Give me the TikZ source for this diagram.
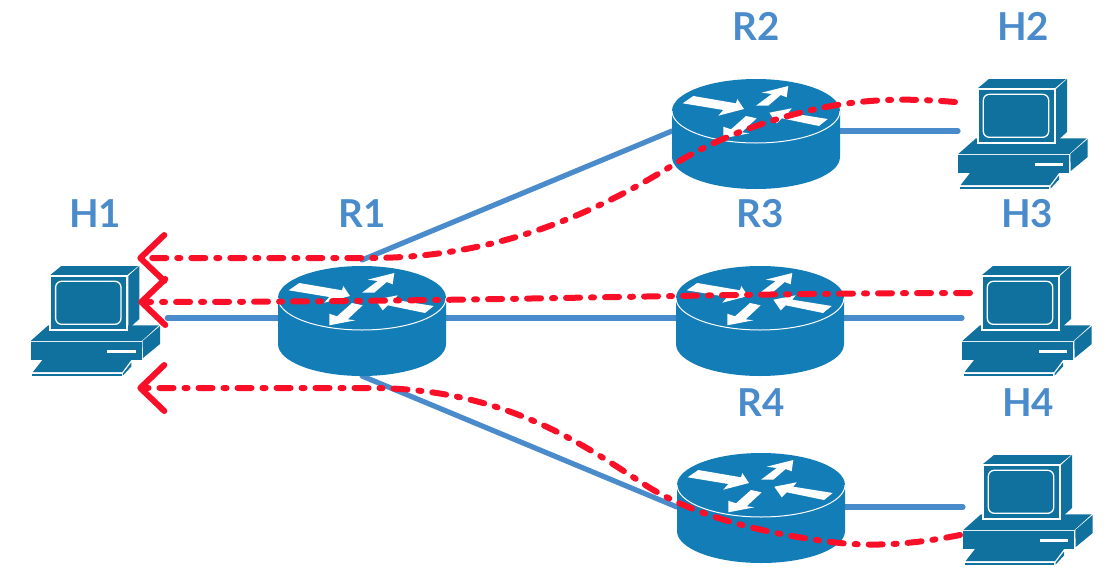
\documentclass[tikz,border=0pt]{standalone}
\usepackage{fontspec}
\setmainfont{Lato}
\definecolor{routerblue}{HTML}{137DB8}
\definecolor{hostblue}{HTML}{10709E}
\definecolor{wireblue}{HTML}{4A8CCB}
\definecolor{flowred}{HTML}{FA0F28}
\usetikzlibrary{calc,positioning,arrows.meta}
\tikzset{
	routerbox/.style={
		rectangle,
		minimum width=168pt,
		minimum height=116pt,
		inner sep=0pt,
		outer sep=0pt},
	hostbox/.style={
		rectangle,
		minimum width=130pt,
		minimum height=116pt,
		inner sep=0pt,
		outer sep=0pt},
	tag/.style={
		text=wireblue,
		font=\fontsize{38.5}{38.5}\selectfont\bfseries,
		inner sep=0pt},
	wire/.style={draw=wireblue, line width=5.2pt, line cap=round},
	flow/.style={
		draw=flowred,
		line width=6pt,
		line cap=round,
		dash pattern=on 14pt off 11pt on 3pt off 11pt,
		-{Straight Barb[length=24pt,width=46pt,round]}},
	router/.pic={
		\fill[routerblue] (-84,-20) -- (-84,26)
			arc[start angle=180,end angle=0,x radius=84,y radius=32] -- (84,-20) -- cycle;
		\fill[routerblue] (0,-20) ellipse[x radius=84,y radius=32];
		\draw[white,line width=1pt] (-84,-20)
			arc[start angle=180,end angle=0,x radius=84,y radius=32];
		\fill[white] (-73.3,-27.7) -- (-62.7,-35) -- (-20,-27.7) -- (-18.7,-32) -- (-12,-22)
			-- (-37.7,-15.3) -- (-32.7,-21) -- cycle;
		\fill[white] (32.3,-45) -- (5.7,-38.3) -- (15.7,-37) -- (0,-25.3) -- (12.3,-25.3)
			-- (24.7,-36) -- (30.7,-33.7) -- cycle;
		\fill[white] (-32.7,7.3) -- (-32.7,-4.3) -- (-25,-1.7) -- (-10,-15) -- (0.7,-12.7)
			-- (-14.3,1.3) -- (-6.7,2.3) -- cycle;
		\fill[white] (13.3,-18.3) -- (35.7,-22.7) -- (32.3,-18.3) -- (71.7,-12) -- (63,-5)
			-- (25.7,-12.7) -- (20.7,-7.7) -- cycle;
	},
	host/.pic={
		% base
		\fill[hostblue] (-64.7,23) -- (-47,7.3) -- (63.7,7.3) -- (46.3,23) -- cycle;
		\fill[hostblue] (-64.7,24.3) rectangle (46.3,41.7);
		\fill[hostblue] (47.3,23) -- (64.7,8) -- (64.7,26) -- (47.7,40) -- cycle;
		\fill[white] (12,32) rectangle (40.3,34.7);
		% monitor
		\fill[hostblue] (-45,-43) -- (-34,-52) -- (43,-52) -- (32,-43) -- cycle;
		\fill[hostblue] (33,-42) -- (44,-52) -- (44,1) -- (33,11) -- cycle;
		\draw[white,line width=1.7pt,fill=hostblue] (-45.3,-41.7) rectangle (32,12.3);
		\draw[white,line width=1.3pt,rounded corners=6pt] (-39.7,-36.7) rectangle (25.7,6.3);
		% keyboard
		\fill[hostblue] (-62.3,54) -- (-53,42) -- (36,42) -- (27,54) -- cycle;
		\fill[hostblue] (-63,55.7) rectangle (26.3,57.7);
		\fill[hostblue] (27.5,55.7) -- (36,44.5) -- (36,48.5) -- (27.5,57.7) -- cycle;
	},
}

\begin{document}
\begin{tikzpicture}[x=1pt,y=-1pt]
\useasboundingbox (0,0) rectangle (1112,576);

\node[routerbox] (r1) at (362,318) {};
\node[routerbox] (r2) at (756,131) {};
\node[routerbox] (r3) at (760,318) {};
\node[routerbox] (r4) at (761,507) {};
\node[hostbox] (h1) at (95.3,318) {};
\node[hostbox] (h2) at (1023,131) {};
\node[hostbox] (h3) at (1027,318) {};
\node[hostbox] (h4) at (1028,507) {};

\node[tag, above=32pt of r1] (r1tag) {R1};
\node[tag, above=32pt of r2] (r2tag) {R2};
\node[tag, above=32pt of r3] (r3tag) {R3};
\node[tag, above=32pt of r4] (r4tag) {R4};
\node[tag, above=32pt of h1] (h1tag) {H1};
\node[tag, above=32pt of h2] (h2tag) {H2};
\node[tag, above=32pt of h3] (h3tag) {H3};
\node[tag, above=32pt of h4] (h4tag) {H4};

\draw[wire, shorten <=7pt] (h1.east) -- (r1.west);
\draw[wire] (r1.north) -- (r2.west);
\draw[wire] (r1.east) -- (r3.west);
\draw[wire] (r1.south) -- (r4.west);
\draw[wire] (r2.east) -- (h2.west);
\draw[wire] (r3.east) -- (h3.west);
\draw[wire] (r4.east) -- (h4.west);

\pic at (r1) {router};
\pic at (r2) {router};
\pic at (r3) {router};
\pic at ([yshift=2pt]r4) {router};
\pic at (h1) {host};
\pic at (h2) {host};
\pic at (h3) {host};
\pic at (h4) {host};

\coordinate (h1up) at ($(h1.east)+(-23,-60)$);
\coordinate (h1mid) at ($(h1.east)+(-22,-16)$);
\coordinate (h1low) at ($(h1.east)+(-23,70)$);
\coordinate (h2out) at ($(h2.west)+(-3,-29)$);
\coordinate (h3out) at ($(h3.west)+(8,-25)$);
\coordinate (h4out) at ($(h4.west)+(-3,28)$);

\draw[flow] (h2out) .. controls (905,98) and (860,98) .. (803,112)
	.. controls (755,124) and (710,142) .. (673,165)
	.. controls (600,210) and (500,258) .. (370,258) -- (h1up);
\draw[flow] (h3out) .. controls (700,293) and (500,302) .. (h1mid);
\draw[flow] (h4out) .. controls (920,543) and (880,547) .. (840,543)
	.. controls (770,535) and (700,518) .. (650,488)
	.. controls (590,450) and (510,388) .. (370,388) -- (h1low);
\end{tikzpicture}
\end{document}
